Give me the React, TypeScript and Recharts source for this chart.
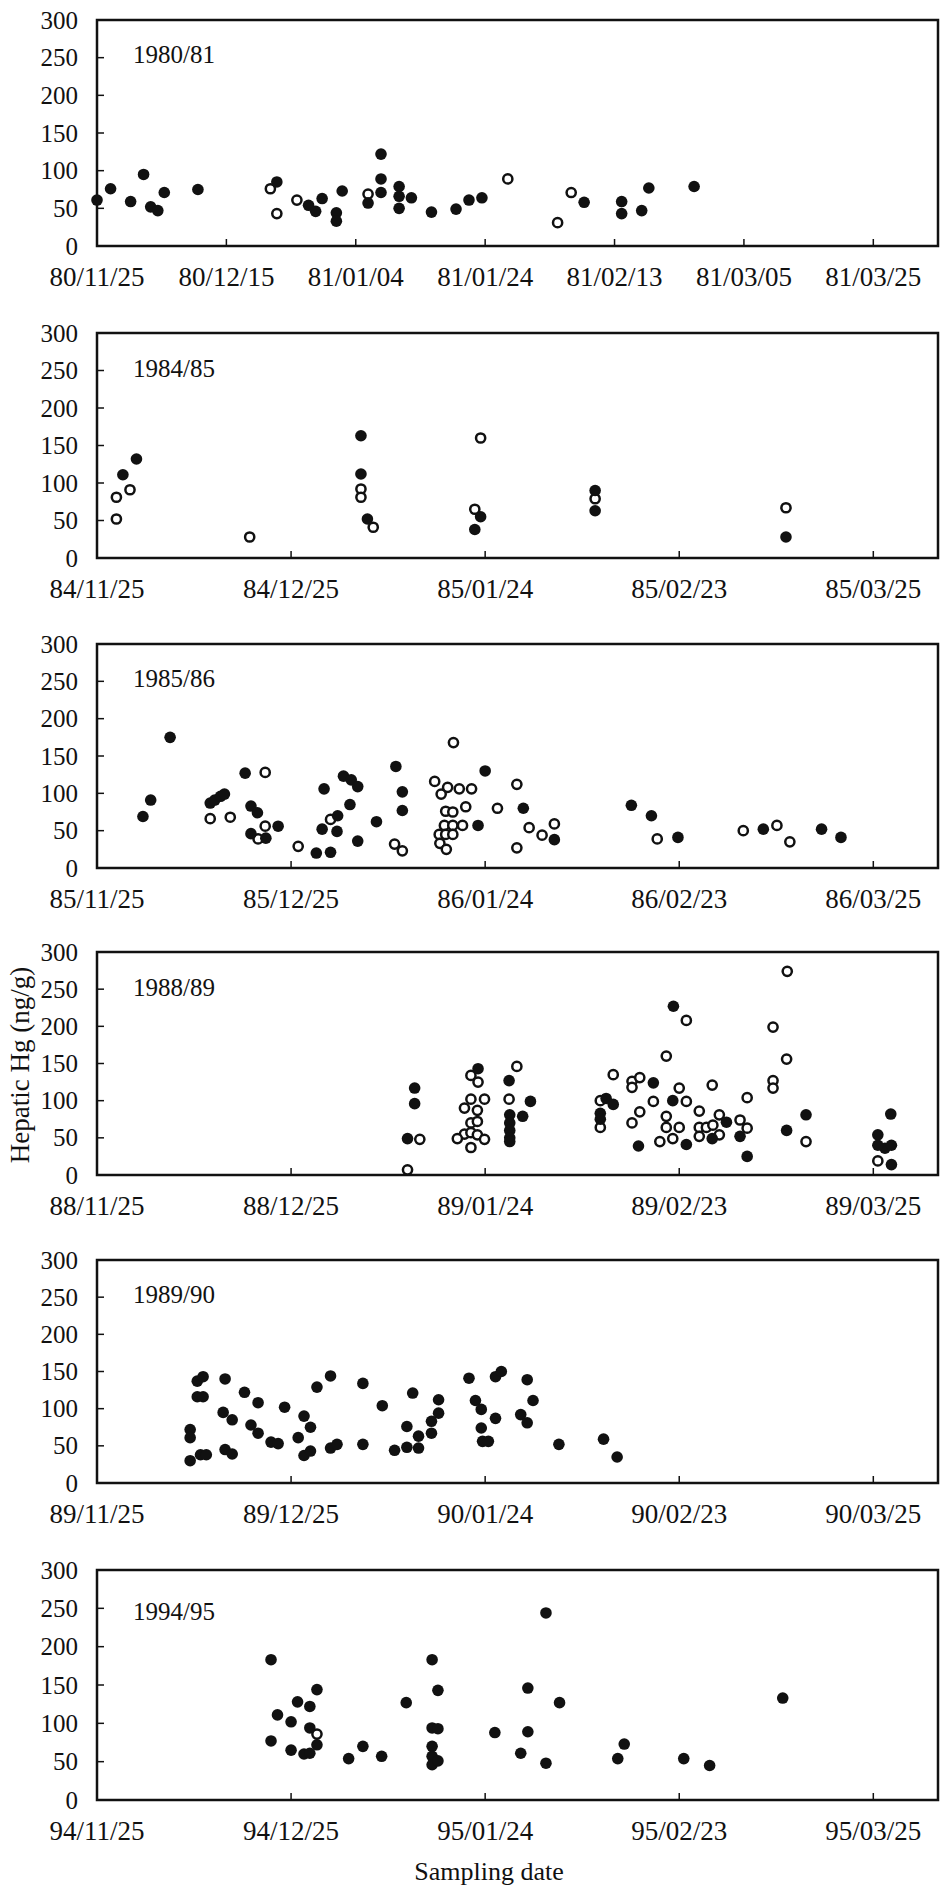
import React from "react";
import { ScatterChart, Scatter, XAxis, YAxis, ReferenceArea } from "recharts";

// x = days after 25 Nov of the season, y = hepatic Hg (ng/g)
const Y_TICKS = [0, 50, 100, 150, 200, 250, 300];
const X_TICKS_20 = [0, 20, 40, 60, 80, 100, 120];
const X_TICKS_30 = [0, 30, 60, 90, 120];

const labels1980 = ["80/11/25", "80/12/15", "81/01/04", "81/01/24", "81/02/13", "81/03/05", "81/03/25"];
const labels1984 = ["84/11/25", "84/12/25", "85/01/24", "85/02/23", "85/03/25"];
const labels1985 = ["85/11/25", "85/12/25", "86/01/24", "86/02/23", "86/03/25"];
const labels1988 = ["88/11/25", "88/12/25", "89/01/24", "89/02/23", "89/03/25"];
const labels1989 = ["89/11/25", "89/12/25", "90/01/24", "90/02/23", "90/03/25"];
const labels1994 = ["94/11/25", "94/12/25", "95/01/24", "95/02/23", "95/03/25"];

const filled1980 = [
  [0, 61], [2.1, 76], [5.2, 59], [7.2, 95], [8.3, 52], [9.4, 47], [10.4, 71], [15.6, 75],
  [27.8, 85], [32.7, 54], [33.8, 46], [34.8, 63], [37, 44], [37, 33], [37.9, 73], [41.9, 57],
  [43.9, 122], [43.9, 89], [43.9, 71], [46.7, 79], [46.7, 66], [46.7, 50], [48.6, 64],
  [51.7, 45], [55.5, 49], [57.5, 61], [59.5, 64], [75.3, 58], [81.1, 59], [81.1, 43],
  [84.2, 47], [85.3, 77], [92.3, 79],
];
const open1980 = [[26.8, 76], [27.8, 43], [30.9, 61], [41.9, 69], [63.5, 89], [71.2, 31], [73.3, 71]];

const filled1984 = [
  [4, 111], [6.1, 132], [40.8, 163], [40.8, 112], [41.8, 52], [59.3, 55], [58.4, 38],
  [77, 90], [77, 63], [106.5, 28],
];
const open1984 = [
  [3, 52], [3, 81], [5.1, 91], [23.6, 28], [40.8, 92], [40.8, 81], [42.7, 41], [59.3, 160],
  [58.4, 65], [77, 79], [106.5, 67],
];

const filled1985 = [
  [7.1, 69], [8.3, 91], [11.3, 175], [17.5, 87], [18.2, 91], [19.1, 96], [19.7, 99], [22.9, 127],
  [23.8, 83], [24.8, 74], [23.8, 46], [26.1, 40], [28, 56], [33.9, 20], [36.1, 21], [35.1, 106],
  [34.8, 52], [37.2, 70], [37.1, 49], [38.1, 123], [39.3, 118], [40.3, 109], [39.1, 85],
  [40.3, 36], [43.2, 62], [46.2, 136], [47.2, 102], [47.2, 77], [58.9, 57], [60, 130],
  [65.9, 80], [70.7, 38], [82.6, 84], [85.7, 70], [89.8, 41], [103, 52], [112, 52], [115, 41],
];
const open1985 = [
  [17.5, 66], [20.6, 68], [26, 128], [26, 56], [24.9, 39], [31.1, 29], [36.1, 65], [46, 32],
  [47.2, 23], [55.1, 168], [52.2, 116], [53.2, 99], [54.2, 108], [56, 106], [57.9, 106],
  [53.9, 76], [55, 75], [57, 82], [53.7, 57], [55, 57], [56.5, 57], [52.9, 45], [53.9, 45],
  [55, 45], [53, 33], [54, 25], [61.9, 80], [64.9, 112], [66.8, 54], [68.8, 44], [70.7, 59],
  [64.9, 27], [86.6, 39], [99.9, 50], [105.1, 57], [107.1, 35],
];

const filled1988 = [
  [49.1, 117], [49.1, 96], [48, 49], [58.9, 143], [63.7, 127], [67, 99], [65.8, 79], [63.8, 81],
  [63.8, 70], [63.8, 60], [63.8, 50], [63.8, 45], [78.7, 103], [79.8, 95], [77.8, 83],
  [77.8, 75], [86, 124], [89.1, 227], [89, 100], [83.7, 39], [91.1, 41], [97.3, 71], [95.1, 49],
  [99.4, 52], [100.5, 25], [109.6, 81], [106.6, 60], [122.7, 82], [120.7, 54], [121.8, 36],
  [122.8, 40], [120.7, 40], [122.8, 14],
];
const open1988 = [
  [48, 7], [49.9, 48], [57.8, 134], [58.9, 125], [57.8, 102], [59.9, 102], [56.8, 90],
  [58.8, 87], [57.8, 70], [58.8, 72], [56.8, 55], [57.8, 57], [55.7, 49], [58.8, 54],
  [59.9, 48], [57.8, 37], [64.9, 146], [63.7, 102], [77.8, 100], [77.8, 64], [79.8, 135],
  [82.7, 126], [82.7, 118], [83.9, 131], [88, 160], [91.1, 208], [90, 117], [91.1, 99],
  [86, 99], [83.9, 85], [82.7, 70], [88, 79], [88, 64], [90, 64], [87, 45], [89, 49],
  [93.1, 86], [95.1, 121], [93.1, 64], [94.2, 64], [93.1, 52], [96.2, 81], [95.2, 67],
  [96.2, 54], [99.4, 74], [100.5, 104], [100.5, 63], [104.5, 199], [106.7, 274], [106.6, 156],
  [104.5, 127], [104.5, 117], [109.6, 45], [120.7, 19],
];

const filled1989 = [
  [14.4, 72], [14.4, 61], [14.4, 30], [15.5, 137], [16.4, 143], [15.5, 116], [16.4, 116],
  [16, 38], [16.9, 38], [19.8, 140], [19.5, 95], [20.9, 85], [19.8, 45], [20.9, 39],
  [22.8, 122], [24.9, 108], [23.8, 78], [24.9, 67], [26.9, 55], [28, 53], [29, 102],
  [31.1, 61], [32, 90], [33, 75], [32, 37], [33, 43], [34, 129], [36.1, 144], [36.1, 47],
  [37.1, 52], [41.1, 134], [41.1, 52], [44.1, 104], [46, 44], [47.9, 48], [48.8, 121],
  [47.9, 76], [49.7, 63], [49.7, 47], [51.7, 67], [51.7, 83], [52.8, 112], [52.8, 94],
  [57.5, 141], [58.5, 111], [59.4, 99], [59.4, 74], [59.6, 56], [60.5, 56], [61.6, 87],
  [61.6, 143], [62.5, 150], [65.5, 92], [66.5, 139], [66.5, 81], [67.4, 111], [71.4, 52],
  [78.3, 59], [80.4, 35],
];
const open1989: number[][] = [];

const filled1994 = [
  [26.9, 183], [26.9, 77], [27.9, 111], [30, 102], [30, 65], [31, 128], [32.9, 122], [34, 144],
  [32.9, 94], [32, 60], [32.9, 61], [34, 72], [38.9, 54], [41.1, 70], [44, 57], [47.8, 127],
  [51.8, 183], [52.7, 143], [51.8, 94], [52.7, 93], [51.8, 70], [51.8, 57], [51.8, 46],
  [52.7, 51], [61.5, 88], [66.6, 146], [66.6, 89], [65.5, 61], [69.4, 244], [69.4, 48],
  [71.5, 127], [80.5, 54], [81.5, 73], [90.7, 54], [94.7, 45], [106, 133],
];
const open1994 = [[34, 86]];

const FONT = "'Liberation Serif', 'Times New Roman', serif";
const INK = "#111";
const PAD_TOP = 20;

const toPts = (arr: number[][]) => arr.map(([x, y]) => ({ x, y }));

const panels = [
  { season: "1980/81", top: 20, bottom: 246, ticks: X_TICKS_20, labels: labels1980, filled: filled1980, open: open1980, lab: 43 },
  { season: "1984/85", top: 333, bottom: 558, ticks: X_TICKS_30, labels: labels1984, filled: filled1984, open: open1984, lab: 44 },
  { season: "1985/86", top: 644, bottom: 868, ticks: X_TICKS_30, labels: labels1985, filled: filled1985, open: open1985, lab: 43 },
  { season: "1988/89", top: 952, bottom: 1175, ticks: X_TICKS_30, labels: labels1988, filled: filled1988, open: open1988, lab: 44 },
  { season: "1989/90", top: 1260, bottom: 1483, ticks: X_TICKS_30, labels: labels1989, filled: filled1989, open: open1989, lab: 43 },
  { season: "1994/95", top: 1570, bottom: 1800, ticks: X_TICKS_30, labels: labels1994, filled: filled1994, open: open1994, lab: 50 },
];

const FilledDot = (p: any) => <circle cx={p.cx} cy={p.cy} r={5.8} fill={INK} />;
const OpenDot = (p: any) => (
  <circle cx={p.cx} cy={p.cy} r={4.6} fill="#fff" stroke={INK} strokeWidth={2.5} />
);

function XTick(props: any) {
  const { x, y, payload, ticks, labels } = props;
  const i = ticks.indexOf(payload.value);
  return (
    <g>
      {payload.value > 0 && <line x1={x} y1={y} x2={x} y2={y - 7} stroke={INK} strokeWidth={1.5} />}
      <text x={x} y={y + 40} textAnchor="middle" fontSize={27} fontFamily={FONT} fill={INK}>
        {labels[i]}
      </text>
    </g>
  );
}

function YTick(props: any) {
  const { x, y, payload } = props;
  const v = payload.value;
  return (
    <g>
      {v > 0 && v < 300 && <line x1={x} y1={y} x2={x + 7} y2={y} stroke={INK} strokeWidth={1.5} />}
      <text x={x - 19} y={y} dy="0.34em" textAnchor="end" fontSize={25} fontFamily={FONT} fill={INK}>
        {v}
      </text>
    </g>
  );
}

function Panel({ p }: { p: (typeof panels)[number] }) {
  const plotH = p.bottom - p.top;
  return (
    <div style={{ position: "absolute", left: 0, top: p.top - PAD_TOP }}>
      <ScatterChart width={949} height={plotH + PAD_TOP + 50} margin={{ top: PAD_TOP, right: 11, bottom: 0, left: 0 }}>
        <XAxis
          type="number"
          dataKey="x"
          domain={[0, 130]}
          ticks={p.ticks}
          interval={0}
          tickSize={0}
          tickMargin={0}
          axisLine={false}
          tickLine={false}
          height={50}
          tick={<XTick ticks={p.ticks} labels={p.labels} />}
        />
        <YAxis
          type="number"
          dataKey="y"
          domain={[0, 300]}
          ticks={Y_TICKS}
          interval={0}
          tickSize={0}
          tickMargin={0}
          axisLine={false}
          tickLine={false}
          width={97}
          tick={<YTick />}
        />
        <ReferenceArea x1={0} x2={130} y1={0} y2={300} fill="none" fillOpacity={0} stroke={INK} strokeWidth={2.5} />
        <Scatter data={toPts(p.open)} shape={OpenDot} isAnimationActive={false} />
        <Scatter data={toPts(p.filled)} shape={FilledDot} isAnimationActive={false} />
      </ScatterChart>
    </div>
  );
}

export default function App() {
  return (
    <div style={{ position: "absolute", left: 0, top: 0, width: 949, height: 1890, background: "#fff", overflow: "hidden" }}>
      {panels.map((p) => (
        <Panel key={p.season} p={p} />
      ))}
      <svg width={949} height={1890} style={{ position: "absolute", left: 0, top: 0, pointerEvents: "none" }}>
        {panels.map((p) => (
          <text key={p.season} x={133} y={p.top + p.lab} fontSize={25} fontFamily={FONT} fill={INK}>
            {p.season}
          </text>
        ))}
        <text transform="translate(29,1065) rotate(-90)" textAnchor="middle" fontSize={27} fontFamily={FONT} fill={INK}>
          Hepatic Hg (ng/g)
        </text>
        <text x={489} y={1880} textAnchor="middle" fontSize={26} fontFamily={FONT} fill={INK}>
          Sampling date
        </text>
      </svg>
    </div>
  );
}
